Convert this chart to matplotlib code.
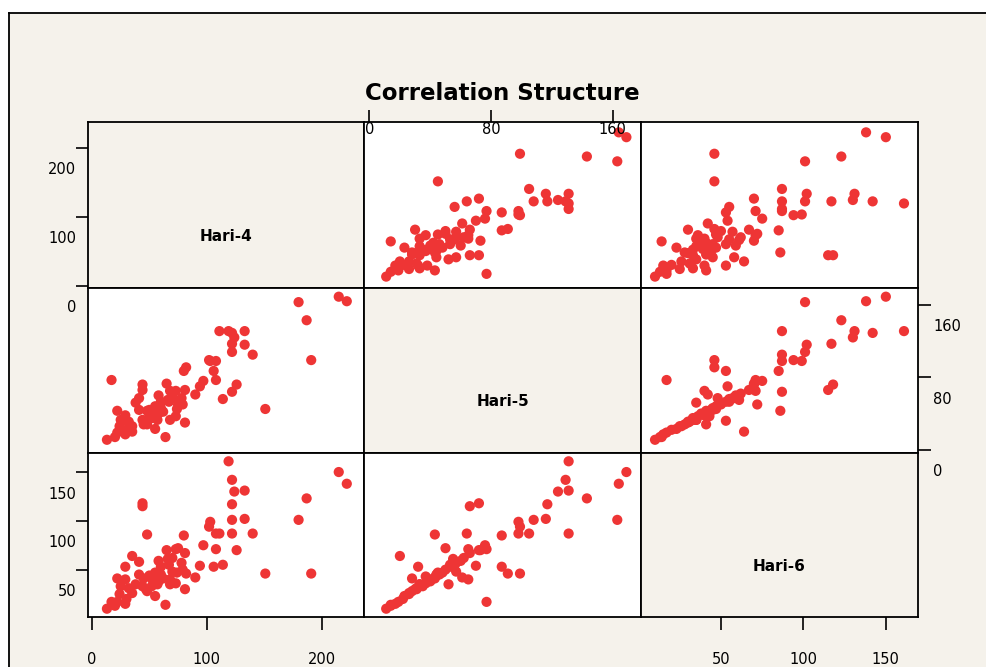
import matplotlib
matplotlib.use("Agg")
import matplotlib.pyplot as plt
import matplotlib.transforms as mtransforms
from matplotlib.patches import Rectangle
from matplotlib.lines import Line2D

# data
hari4 = [222, 215, 187, 180, 191, 151, 119, 133, 122, 124,
         122, 133, 122, 111, 140, 102, 103, 108, 80, 106,
         82, 122, 48, 44, 44, 126, 114, 97, 108, 94,
         90, 17, 35, 81, 75, 13, 22, 29, 30, 25,
         32, 29, 22, 29, 41, 41, 44, 50, 47, 55,
         48, 52, 58, 57, 60, 64, 65, 73, 68, 67,
         70, 74, 73, 78, 79, 81, 68, 35, 60, 55,
         62, 50, 38, 45, 66, 24, 20, 58, 70, 53]
hari5 = [164, 169, 143, 163, 99, 45, 131, 131, 129, 124,
         117, 116, 108, 131, 105, 99, 98, 98, 87, 87,
         91, 64, 43, 66, 72, 72, 56, 76, 77, 70,
         61, 77, 20, 66, 50, 11, 19, 17, 22, 33,
         31, 32, 43, 38, 57, 44, 33, 37, 31, 23,
         28, 35, 40, 33, 53, 14, 73, 65, 33, 53,
         57, 45, 37, 57, 50, 30, 65, 26, 46, 48,
         42, 44, 52, 28, 55, 26, 14, 60, 62, 39]
hari6 = [138, 150, 123, 101, 46, 46, 161, 131, 142, 130,
         117, 102, 101, 87, 87, 94, 99, 87, 85, 53,
         46, 87, 86, 115, 118, 70, 55, 75, 71, 54,
         42, 17, 64, 67, 72, 10, 17, 15, 20, 33,
         31, 53, 41, 40, 58, 45, 33, 43, 30, 23,
         28, 33, 38, 35, 53, 14, 70, 71, 35, 55,
         48, 47, 36, 57, 50, 30, 40, 26, 45, 47,
         41, 44, 35, 41, 61, 25, 13, 59, 62, 39]

names = ["Hari-4", "Hari-5", "Hari-6"]
series = [hari4, hari5, hari6]
limits = [(-3.5, 237), (-3.6, 178.6), (1.5, 169.5)]

BG = "#F5F2EB"
DOT = "#EE3535"
W, H = 986, 667

fig = plt.figure(figsize=(W / 100, H / 100), dpi=100)
fig.patch.set_facecolor("white")

# beige frame with a black border on top and left
fig.patches.append(Rectangle((8.5 / W, 0), 1, 1 - 12.5 / H, transform=fig.transFigure,
                             facecolor=BG, edgecolor="none", zorder=-10))
fig.lines.append(Line2D([8.5 / W, 8.5 / W], [0, 1 - 12.5 / H], transform=fig.transFigure,
                        color="black", lw=1.3, zorder=-5))
fig.lines.append(Line2D([8.5 / W, 1], [1 - 12.5 / H, 1 - 12.5 / H], transform=fig.transFigure,
                        color="black", lw=1.3, zorder=-5))

fig.text(502 / W, 1 - 93 / H, "Correlation Structure", ha="center", va="center",
         fontsize=16.5, fontweight="bold")

xs = [88, 364, 641, 918]
ys = [122, 288, 453, 617]

axes = {}
for r in range(3):
    for c in range(3):
        ax = fig.add_axes([xs[c] / W, 1 - ys[r + 1] / H,
                           (xs[c + 1] - xs[c]) / W, (ys[r + 1] - ys[r]) / H])
        ax.set_xlim(limits[c])
        ax.set_ylim(limits[r])
        ax.set_xticks([])
        ax.set_yticks([])
        for sp in ax.spines.values():
            sp.set_linewidth(1.3)
        if r == c:
            ax.set_facecolor(BG)
            ax.text(0.5, 0.31, names[r], transform=ax.transAxes, ha="center",
                    va="center", fontsize=11, fontweight="bold")
        else:
            ax.set_facecolor("white")
            ax.scatter(series[c], series[r], s=54, color=DOT, edgecolors="none",
                       zorder=3, clip_on=True)
        axes[(r, c)] = ax


def shift(dx, dy):
    return mtransforms.ScaledTranslation(dx / 100, dy / 100, fig.dpi_scale_trans)


def y_axis(ax, vals, side):
    ax.set_yticks(vals)
    if side == "left":
        ax.tick_params(axis="y", left=True, right=False, labelleft=False,
                       direction="out", length=9, width=1.2)
        tr = mtransforms.blended_transform_factory(ax.transAxes, ax.transData) + shift(-12, -22)
        for v in vals:
            ax.text(0, v, str(v), transform=tr, ha="right", va="center", fontsize=10.5)
    else:
        ax.tick_params(axis="y", left=False, right=True, labelleft=False,
                       labelright=False, direction="out", length=9, width=1.2)
        tr = mtransforms.blended_transform_factory(ax.transAxes, ax.transData) + shift(15, -22)
        for v in vals:
            ax.text(1, v, str(v), transform=tr, ha="left", va="center", fontsize=10.5)


def x_axis(ax, vals, side):
    ax.set_xticks(vals)
    tr = mtransforms.blended_transform_factory(ax.transData, ax.transAxes)
    if side == "top":
        ax.tick_params(axis="x", top=True, bottom=False, labelbottom=False,
                       direction="out", length=9, width=1.2)
        for v in vals:
            ax.text(v, 1, str(v), transform=tr + shift(0, -7), ha="center", va="center",
                    fontsize=10.5)
    else:
        ax.tick_params(axis="x", top=False, bottom=True, labelbottom=False,
                       direction="out", length=9, width=1.2)
        for v in vals:
            ax.text(v, 0, str(v), transform=tr + shift(0, -43), ha="center", va="center",
                    fontsize=10.5)


y_axis(axes[(0, 0)], [0, 100, 200], "left")
y_axis(axes[(2, 0)], [50, 100, 150], "left")
y_axis(axes[(1, 2)], [0, 80, 160], "right")
x_axis(axes[(0, 1)], [0, 80, 160], "top")
x_axis(axes[(2, 0)], [0, 100, 200], "bottom")
x_axis(axes[(2, 2)], [50, 100, 150], "bottom")

fig.savefig("out.png", dpi=100, facecolor=fig.get_facecolor())
